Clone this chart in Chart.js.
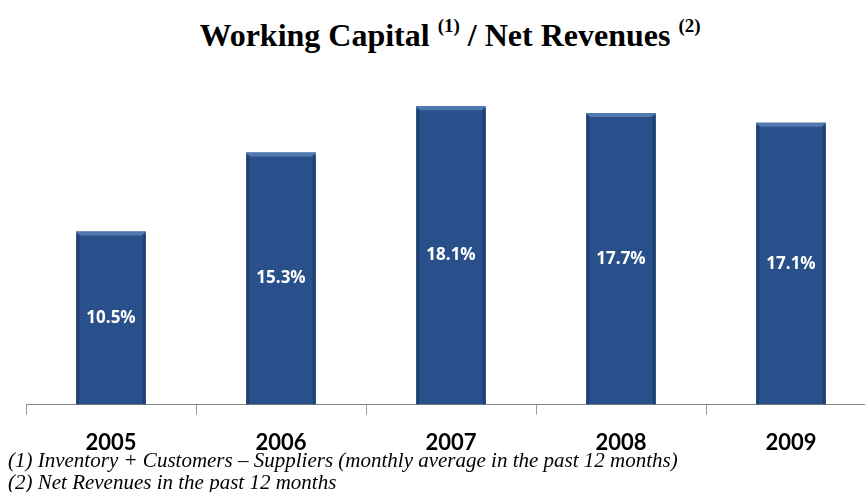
<!DOCTYPE html>
<html>
<head>
<meta charset="utf-8">
<script src="https://cdn.jsdelivr.net/npm/chart.js@4"></script>
<style>
  html, body { margin: 0; padding: 0; background: #fff; overflow: hidden; width: 865px; height: 492px; }
  #wrap { position: absolute; left: 0; top: 0; width: 880px; height: 492px; }
  #title { position: absolute; left: 0; top: 17px; width: 900px; text-align: center;
           font: bold 32px "Liberation Serif", serif; color: #000; white-space: nowrap; }
  #title sup { font-size: 19px; vertical-align: 14px; line-height: 0; }
  .note { position: absolute; left: 8px; font: italic 20px "Liberation Serif", serif; color: #000;
          white-space: nowrap; transform-origin: 0 50%; transform: scaleX(1.05); }
</style>
</head>
<body>
<div id="title">Working Capital <sup>(1)</sup> / Net Revenues <sup>(2)</sup></div>
<div id="wrap"><canvas id="chart"></canvas></div>
<div class="note" style="top:449px">(1) Inventory + Customers – Suppliers (monthly average in the past 12 months)</div>
<div class="note" style="top:471px">(2) Net Revenues in the past 12 months</div>
<script>
const years = ['2005', '2006', '2007', '2008', '2009'];
const ratios = [10.5, 15.3, 18.1, 17.7, 17.1];
const labelsPct = ['10.5%', '15.3%', '18.1%', '17.7%', '17.1%'];

// bevel highlight on the top of each bar + value text in the middle
const barDeco = {
  id: 'barDeco',
  afterDatasetsDraw(chart) {
    const ctx = chart.ctx;
    const meta = chart.getDatasetMeta(0);
    meta.data.forEach((bar, i) => {
      const left = bar.x - bar.width / 2, right = bar.x + bar.width / 2;
      ctx.save();
      // lighter strip on top
      ctx.fillStyle = '#5079b0';
      ctx.beginPath();
      ctx.moveTo(left, bar.y);
      ctx.lineTo(right, bar.y);
      ctx.lineTo(right - 4, bar.y + 4);
      ctx.lineTo(left + 4, bar.y + 4);
      ctx.closePath();
      ctx.fill();
      // darker sides
      ctx.fillStyle = 'rgba(15,35,70,0.35)';
      ctx.fillRect(left, bar.y + 3, 3, bar.base - bar.y - 3);
      ctx.fillRect(right - 3, bar.y + 3, 3, bar.base - bar.y - 3);
      // value
      ctx.fillStyle = '#fff';
      ctx.font = 'bold 17px "Open Sans", sans-serif';
      ctx.textAlign = 'center';
      ctx.textBaseline = 'middle';
      ctx.fillText(labelsPct[i], bar.x, (bar.y + bar.base) / 2);
      ctx.restore();
    });
  }
};

new Chart(document.getElementById('chart'), {
  type: 'bar',
  data: {
    labels: years,
    datasets: [{
      data: ratios,
      backgroundColor: '#29508a',
      barPercentage: 0.41,
      categoryPercentage: 1
    }]
  },
  options: {
    responsive: true,
    maintainAspectRatio: false,
    animation: false,
    layout: { padding: { left: 26, right: 4, top: 75, bottom: 21 } },
    plugins: { legend: { display: false }, tooltip: { enabled: false } },
    scales: {
      x: {
        grid: { display: true, drawOnChartArea: false, offset: true, tickLength: 10, color: '#999' },
        border: { color: '#888' },
        ticks: { color: '#000', padding: 15, font: { family: 'Lato', weight: 'bold', size: 22 } }
      },
      y: { display: false, min: 0, max: 20 }
    }
  },
  plugins: [barDeco]
});
</script>
</body>
</html>
